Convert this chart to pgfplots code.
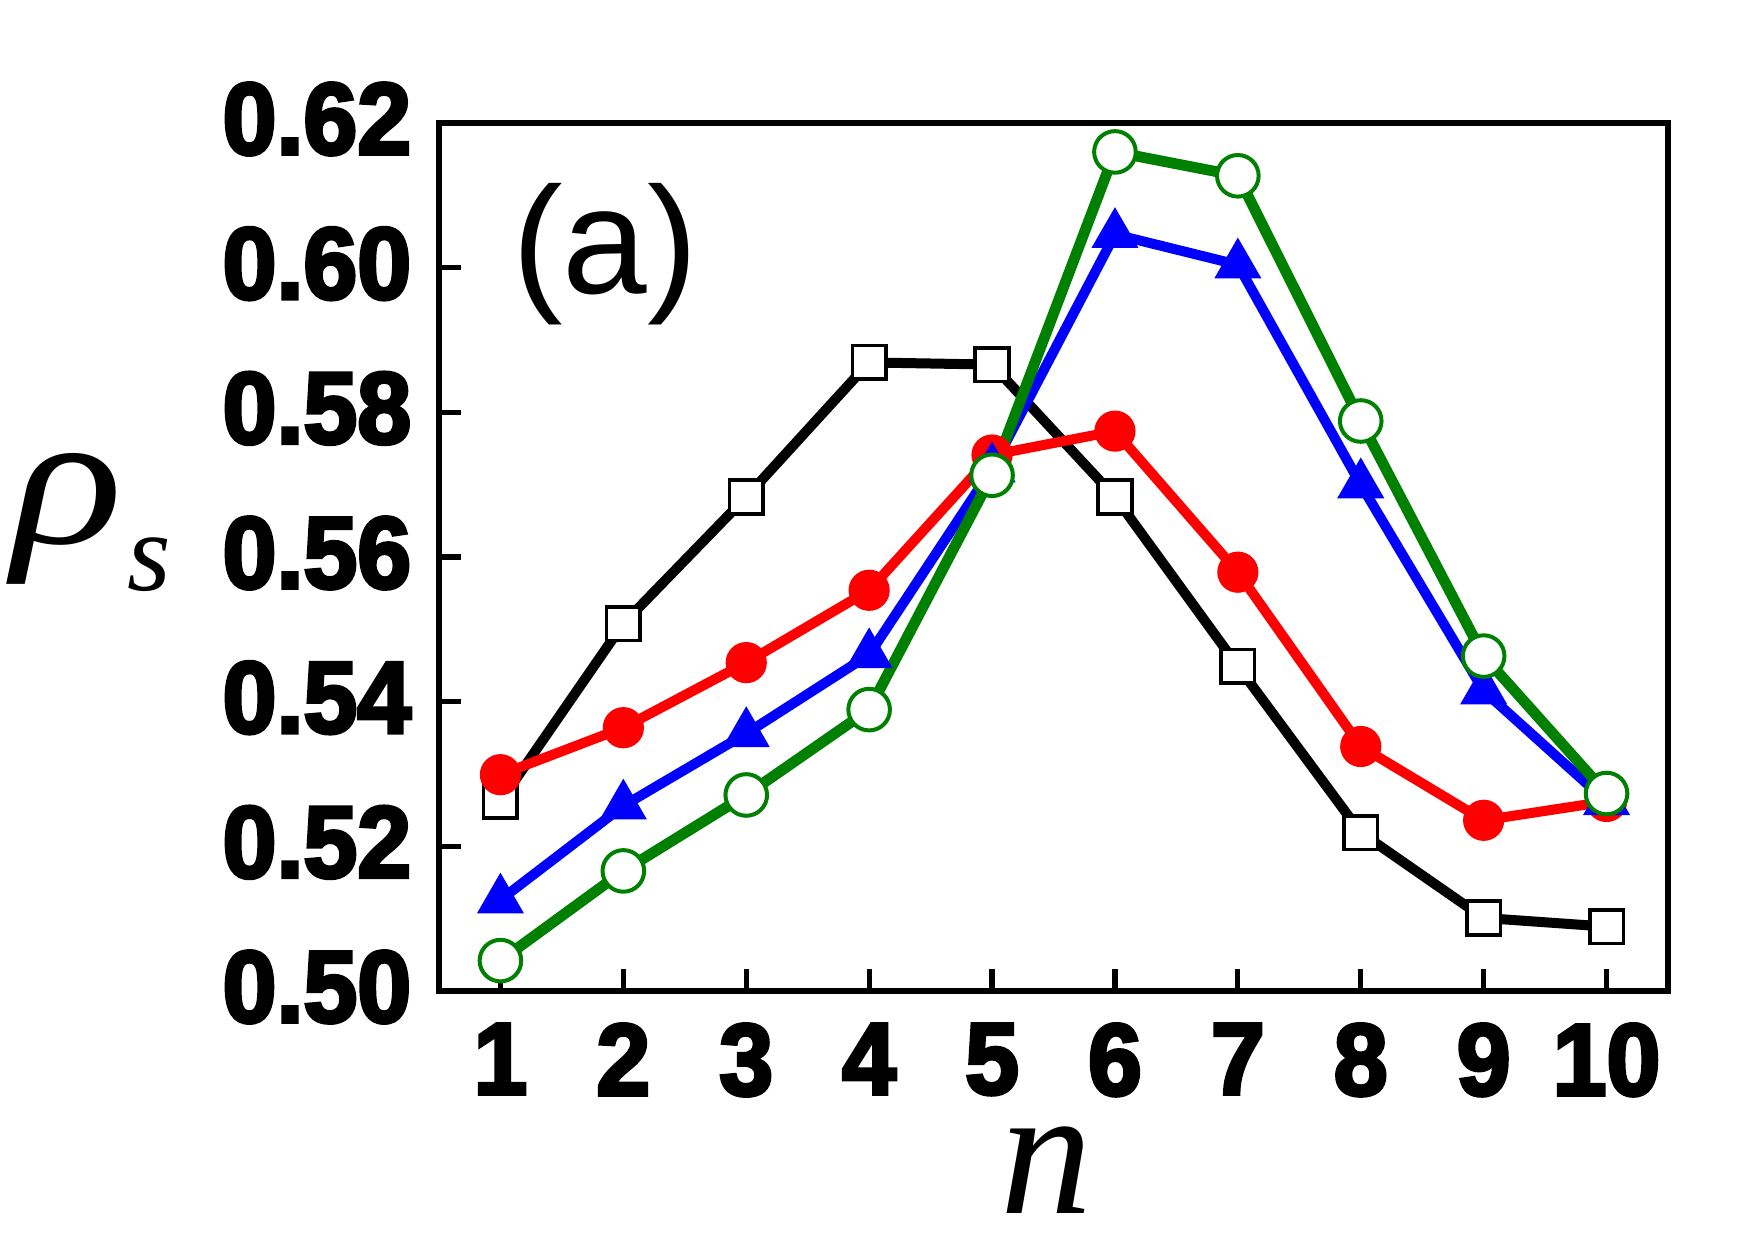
\documentclass[border=0pt]{standalone}
\usepackage{fontspec}
\setmainfont{Liberation Sans}
\newfontfamily\heavyfont{Liberation Sans Bold}[FakeBold=3.5, FakeStretch=0.95]
\newfontfamily\serifit{Liberation Serif Italic}
\newfontfamily\rhofont{Liberation Serif Italic}[FakeStretch=1.2]
\usepackage{pgfplots}
\pgfplotsset{compat=1.18}

\definecolor{dgreen}{RGB}{0,128,0}

\begin{document}
\begin{tikzpicture}
% page frame
\path[use as bounding box] (-109.75pt,-62.5pt) rectangle (329pt,247.75pt);
\begin{axis}[
  at={(0,0)}, anchor=south west,
  scale only axis,
  width=307.25pt, height=217pt,
  xmin=0.5, xmax=10.5,
  ymin=0.50, ymax=0.62,
  xtick={1,2,3,4,5,6,7,8,9,10},
  ytick={0.50,0.52,0.54,0.56,0.58,0.60,0.62},
  xtick pos=bottom, ytick pos=left,
  tick align=inside,
  major tick length=5.5pt,
  tick style={line width=1.3pt, black},
  axis line style={line width=1.4pt},
  /pgf/number format/assume math mode=true,
  ticklabel style={font=\heavyfont\fontsize{25.5}{25.5}\selectfont},
  yticklabel style={/pgf/number format/.cd, fixed, fixed zerofill, precision=2, /tikz/.cd,
    inner sep=0pt, xshift=-6.75pt, yshift=1pt},
  xticklabel style={inner sep=0pt, yshift=-8pt},
  every axis y label/.style={at={(rel axis cs:-0.3474,0.516)}, anchor=base west, inner sep=0pt},
  every axis x label/.style={at={(rel axis cs:0.4947,-0.2569)}, anchor=base, inner sep=0pt},
  ylabel={{\rhofont\fontsize{48}{48}\selectfont ρ}\kern1pt\raisebox{-11.75pt}{\serifit\fontsize{28}{28}\selectfont s}},
  xlabel={\serifit\fontsize{46}{46}\selectfont n},
  clip=false,
]
% black, open squares
\addplot[black, line width=2.5pt, mark=square*, mark size=4.2pt,
  mark options={fill=white, draw=black, line width=0.9pt}]
  coordinates {(1,0.5262) (2,0.5508) (3,0.5683) (4,0.5869) (5,0.5866)
               (6,0.5683) (7,0.5449) (8,0.5219) (9,0.5101) (10,0.5089)};
% red, filled circles
\addplot[red, line width=2.5pt, mark=*, mark size=4.9pt,
  mark options={fill=red, draw=red, line width=0.5pt}]
  coordinates {(1,0.5299) (2,0.5364) (3,0.5454) (4,0.5554) (5,0.5741)
               (6,0.5774) (7,0.5579) (8,0.5338) (9,0.5236) (10,0.5262)};
% blue, filled triangles
\addplot[blue, line width=2.5pt, mark=triangle*, mark size=6.5pt,
  mark options={fill=blue, draw=blue, line width=0.3pt}]
  coordinates {(1,0.5126) (2,0.5256) (3,0.5356) (4,0.5465) (5,0.5722)
               (6,0.6046) (7,0.6004) (8,0.5700) (9,0.5415) (10,0.5262)};
% green, open circles
\addplot[dgreen, line width=2.7pt, mark=*, mark size=5.2pt,
  mark options={fill=white, draw=dgreen, line width=1pt}]
  coordinates {(1,0.5042) (2,0.5166) (3,0.5271) (4,0.5389) (5,0.5713)
               (6,0.6160) (7,0.6127) (8,0.5788) (9,0.5463) (10,0.5273)};
\node[font=\fontsize{38}{38}\selectfont, inner sep=0pt] at (axis cs:1.852,0.6018) {(a)};
\end{axis}
\end{tikzpicture}
\end{document}
